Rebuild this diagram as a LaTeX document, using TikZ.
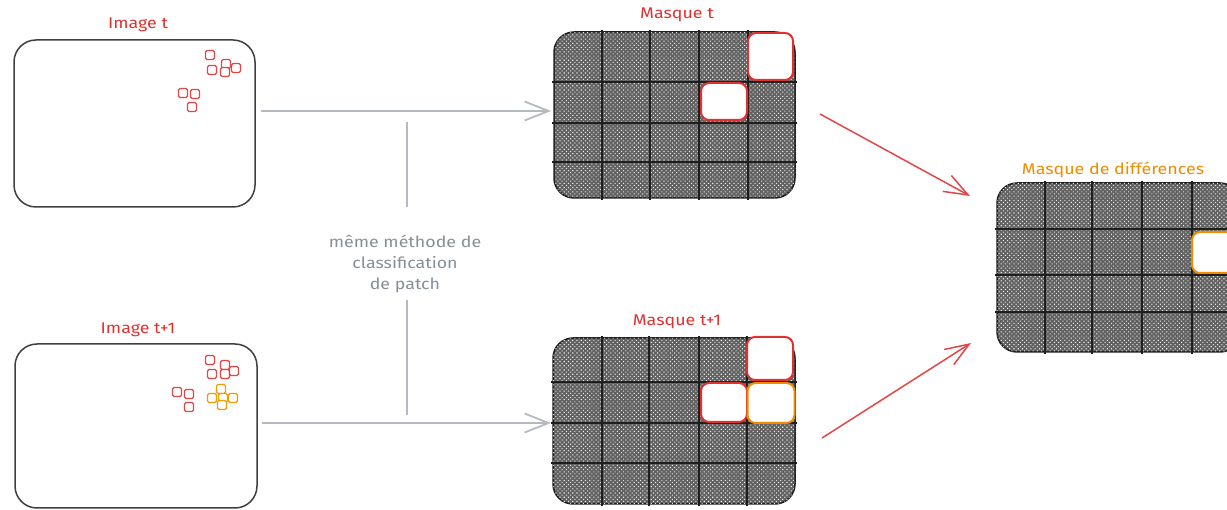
\documentclass[tikz,border=0pt]{standalone}
\usepackage{fontspec}
\setmainfont[FakeStretch=1.15]{Fira Sans}
\usetikzlibrary{arrows.meta,patterns.meta}
\definecolor{exred}{HTML}{E03131}
\definecolor{exorange}{HTML}{F08C00}
\definecolor{exgray}{HTML}{868E96}
\definecolor{arrgray}{HTML}{B4BAC0}
\definecolor{ink}{HTML}{1E1E1E}
\begin{document}
\begin{tikzpicture}[x=1pt,y=-1pt,
  imgbox/.style={draw=ink!85, line width=1.5pt, rounded corners=22pt, inner sep=0pt, outer sep=0pt, fill=white},
  maskbox/.style={draw=ink, line width=1.5pt, rounded corners=20pt, inner sep=0pt, outer sep=0pt, fill=black!62,
    postaction={pattern={Dots[distance=3pt,radius=0.75pt,angle=45]}, pattern color=white!92!black}},
  gridline/.style={ink, line width=1.4pt},
  hole/.style={draw=exred, line width=2pt, fill=white, rounded corners=8pt, inner sep=0pt, outer sep=0pt},
  holeor/.style={hole, draw=exorange},
  sq/.style={draw=exred!90, line width=1.2pt, rounded corners=1.5pt, minimum size=9pt, inner sep=0pt, fill=white},
  sqor/.style={sq, draw=exorange!85!yellow},
  title/.style={font=\fontsize{15.5}{18}\selectfont, text=exred},
  flow/.style={draw=arrgray, line width=2pt, -{Straight Barb[length=24pt,width=19pt,line width=1.8pt]}},
  redflow/.style={draw=exred!90, line width=1.5pt, -{Straight Barb[length=24pt,width=18pt,line width=1.5pt]}},
  note/.style={align=center, text=exgray, font=\fontsize{15.5}{21}\selectfont}
]
\clip (0,0) rectangle (1227,510);
\useasboundingbox (0,0) rectangle (1227,510);

% ---- images ----
\node[imgbox, minimum width=241pt, minimum height=167pt] (imgA) at (134.5,123.5) {};
\node[title] (tImgA) at (138,25) {Image t};
\node[imgbox, minimum width=242pt, minimum height=164pt] (imgB) at (136,426) {};
\node[title] (tImgB) at (138,330) {Image t+1};

\foreach \p [count=\i] in {(210,55),(212,70),(226,64),(225,72),(236,68),(183,93),(195,94),(192,107)}
  \node[sq] (sa\i) at \p {};
\foreach \p [count=\i] in {(210,360),(212,374),(225,365),(225,374),(234,371),(177,392),(189,394),(189,407)}
  \node[sq] (sb\i) at \p {};
\foreach \p [count=\i] in {(221,389),(212,398),(223,398),(233,398),(222,405)}
  \node[sqor] (so\i) at \p {};

% ---- mask t ----
\node[maskbox, minimum width=241pt, minimum height=166pt] (maskA) at (674.5,115) {};
\foreach \x in {602,650,699,748} \draw[gridline] (\x,30) -- (\x,200);
\foreach \y in {82,123,162} \draw[gridline] (552,\y) -- (797,\y);
\node[hole, minimum width=45pt, minimum height=47pt] (hA1) at (770.5,56.5) {};
\node[hole, minimum width=46pt, minimum height=37pt] (hA2) at (724,101.5) {};
\node[title] (tMaskA) at (677,15) {Masque t};

% ---- mask t+1 ----
\node[maskbox, minimum width=242pt, minimum height=166pt] (maskB) at (674,421) {};
\foreach \x in {602,649,699,747} \draw[gridline] (\x,336) -- (\x,506);
\foreach \y in {382,423,463} \draw[gridline] (551,\y) -- (797,\y);
\node[hole, minimum width=46pt, minimum height=43pt] (hB1) at (770,358.5) {};
\node[hole, minimum width=46pt, minimum height=39pt] (hB2) at (724,402.5) {};
\node[holeor, minimum width=47pt, minimum height=40pt] (hB3) at (771,403) {};
\node[title] (tMaskB) at (677,322) {Masque t+1};

% ---- difference mask ----
\node[maskbox, minimum width=243pt, minimum height=169pt] (diff) at (1118.5,267.5) {};
\foreach \x in {1045,1092,1142,1192} \draw[gridline] (\x,181) -- (\x,354);
\foreach \y in {229,275,312} \draw[gridline] (995,\y) -- (1245,\y);
\node[holeor, minimum width=53pt, minimum height=41pt] (hD) at (1218.5,252.5) {};
\node[title, text=exorange] (tDiff) at (1113,170) {Masque de différences};

% ---- connectors ----
\coordinate (a1s) at (261,111); \coordinate (a1e) at (551,111);
\coordinate (a2s) at (262,423); \coordinate (a2e) at (551,423);
\draw[flow] (a1s) -- (a1e);
\draw[flow] (a2s) -- (a2e);

\coordinate (r1s) at (820,114); \coordinate (r1e) at (970,196);
\coordinate (r2s) at (822,438); \coordinate (r2e) at (971,343);
\draw[redflow] (r1s) -- (r1e);
\draw[redflow] (r2s) -- (r2e);

\node[note] (lbl) at (405,264) {même méthode de\\classification\\de patch};
\coordinate (v1a) at (407,122); \coordinate (v1b) at (407,207);
\coordinate (v2a) at (407,300); \coordinate (v2b) at (407,415);
\draw[arrgray, line width=1.3pt] (v1a) -- (v1b);
\draw[arrgray, line width=1.3pt] (v2a) -- (v2b);
\end{tikzpicture}
\end{document}
